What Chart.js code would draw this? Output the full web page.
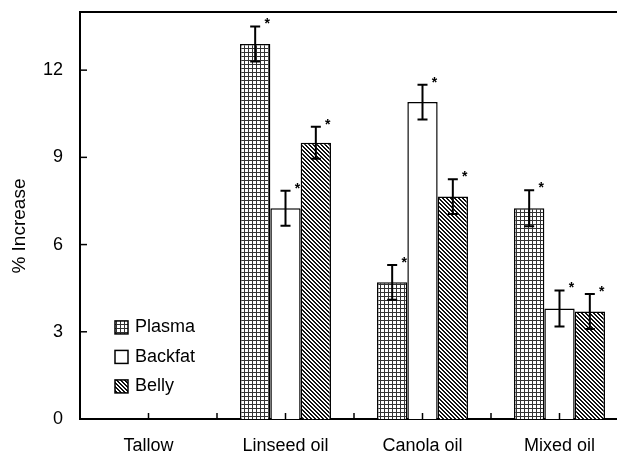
<!DOCTYPE html>
<html><head><meta charset="utf-8">
<script src="https://cdn.jsdelivr.net/npm/chart.js@4"></script>
<style>html,body{margin:0;padding:0;overflow:hidden;background:#fff}canvas{display:block}</style>
</head><body>
<canvas id="c" width="632" height="452"></canvas>
<script>
const categories = ['Tallow', 'Linseed oil', 'Canola oil', 'Mixed oil'];
const seriesNames = ['Plasma', 'Backfat', 'Belly'];
const plasma = [0, 12.9, 4.7, 7.25];
const plasmaErr = [null, 0.6, 0.6, 0.62];
const plasmaStar = [false, true, true, true];
const backfat = [0, 7.25, 10.9, 3.8];
const backfatErr = [null, 0.6, 0.6, 0.62];
const backfatStar = [false, true, true, true];
const belly = [0, 9.5, 7.65, 3.7];
const bellyErr = [null, 0.55, 0.6, 0.6];
const bellyStar = [false, true, true, true];
const yTickValues = [0, 3, 6, 9, 12];
const yMax = 14;
const yTitle = '% Increase';

const FONT = "'Liberation Sans', Arial, sans-serif";
const ctx = document.getElementById('c').getContext('2d');

function gridPattern() {
  const c = document.createElement('canvas'); c.width = 4; c.height = 4;
  const g = c.getContext('2d');
  g.fillStyle = '#fff'; g.fillRect(0, 0, 4, 4);
  g.fillStyle = '#333'; g.fillRect(0, 0, 4, 1); g.fillRect(0, 0, 1, 4);
  return ctx.createPattern(c, 'repeat');
}
function diagPattern() {
  const c = document.createElement('canvas'); c.width = 4; c.height = 4;
  const g = c.getContext('2d');
  g.fillStyle = '#fff'; g.fillRect(0, 0, 4, 4);
  g.fillStyle = '#111';
  for (let x = 0; x < 4; x++) for (let y = 0; y < 4; y++) {
    const d = ((x - y) % 4 + 4) % 4;
    if (d === 0 || d === 1) g.fillRect(x, y, 1, 1);
  }
  return ctx.createPattern(c, 'repeat');
}
const fills = [gridPattern(), '#ffffff', diagPattern()];
const errs = [plasmaErr, backfatErr, bellyErr];
const stars = [plasmaStar, backfatStar, bellyStar];

const decor = {
  id: 'decor',
  afterDatasetsDraw(chart) {
    const c = chart.ctx, ys = chart.scales.y, xs = chart.scales.x, ca = chart.chartArea;
    c.save();
    c.strokeStyle = '#000'; c.fillStyle = '#000';
    chart.data.datasets.forEach((ds, di) => {
      const meta = chart.getDatasetMeta(di);
      meta.data.forEach((el, i) => {
        const e = errs[di][i];
        if (e == null) return;
        const v = ds.data[i];
        const yt = ys.getPixelForValue(v + e), yb = ys.getPixelForValue(v - e);
        c.lineWidth = 2;
        c.beginPath();
        c.moveTo(el.x, yt); c.lineTo(el.x, yb);
        c.moveTo(el.x - 5, yt); c.lineTo(el.x + 5, yt);
        c.moveTo(el.x - 5, yb); c.lineTo(el.x + 5, yb);
        c.stroke();
        if (stars[di][i]) {
          c.font = 'bold 14px ' + FONT;
          c.textAlign = 'center'; c.textBaseline = 'middle';
          c.fillText('*', el.x + 12, yt - 2);
        }
      });
    });
    c.lineWidth = 2;
    c.beginPath(); c.moveTo(ca.left, ca.top); c.lineTo(chart.width, ca.top); c.stroke();
    c.lineWidth = 1.5;
    yTickValues.forEach(v => {
      const y = ys.getPixelForValue(v);
      c.beginPath(); c.moveTo(ca.left, y); c.lineTo(ca.left + 7, y); c.stroke();
    });
    for (let i = 0; i < categories.length; i++) {
      const xc = xs.getPixelForValue(i);
      const xn = i + 1 < categories.length ? xs.getPixelForValue(i + 1) : null;
      const pts = [xc];
      if (xn !== null) pts.push((xc + xn) / 2);
      pts.forEach(x => {
        c.beginPath(); c.moveTo(x, ca.bottom); c.lineTo(x, ca.bottom - 6); c.stroke();
      });
    }
    const lx = 115, ly0 = ys.getPixelForValue(3.15), gap = 29.5;
    seriesNames.forEach((n, k) => {
      const cy = ly0 + k * gap;
      c.fillStyle = fills[k];
      c.fillRect(lx, cy - 6.5, 13, 13);
      c.strokeStyle = '#000'; c.lineWidth = 1.5;
      c.strokeRect(lx, cy - 6.5, 13, 13);
      c.fillStyle = '#000';
      c.font = '18px ' + FONT;
      c.textAlign = 'left'; c.textBaseline = 'middle';
      c.fillText(n, lx + 20, cy);
    });
    c.restore();
  }
};

const datasets = [plasma, backfat, belly].map((d, k) => ({
  label: seriesNames[k],
  data: d,
  backgroundColor: fills[k],
  borderColor: '#000',
  borderWidth: 1.5,
  borderSkipped: 'bottom',
  categoryPercentage: 0.664,
  barPercentage: 1.0
}));

new Chart(ctx, {
  type: 'bar',
  data: { labels: categories, datasets },
  options: {
    responsive: false,
    animation: false,
    devicePixelRatio: 1,
    layout: { padding: { top: 12, right: 4, left: 0, bottom: 0 } },
    plugins: { legend: { display: false }, tooltip: { enabled: false } },
    scales: {
      x: {
        grid: { display: false, drawTicks: false },
        border: { display: true, color: '#000', width: 2 },
        ticks: { color: '#000', font: { family: FONT, size: 18 }, padding: 16, maxRotation: 0 },
        afterFit(s) { s.height = 33; s.paddingLeft = 0; s.paddingRight = 0; }
      },
      y: {
        min: 0, max: yMax,
        grid: { display: false, drawTicks: false },
        border: { display: true, color: '#000', width: 2 },
        ticks: { color: '#000', font: { family: FONT, size: 18 }, padding: 17 },
        afterBuildTicks(s) { s.ticks = yTickValues.map(v => ({ value: v })); },
        title: { display: true, text: yTitle + '    ', color: '#000', font: { family: FONT, size: 19 }, padding: { top: 8, bottom: 0 } },
        afterFit(s) { s.width = 80; s.paddingTop = 0; s.paddingBottom = 0; }
      }
    }
  },
  plugins: [decor]
});
</script>
</body></html>
